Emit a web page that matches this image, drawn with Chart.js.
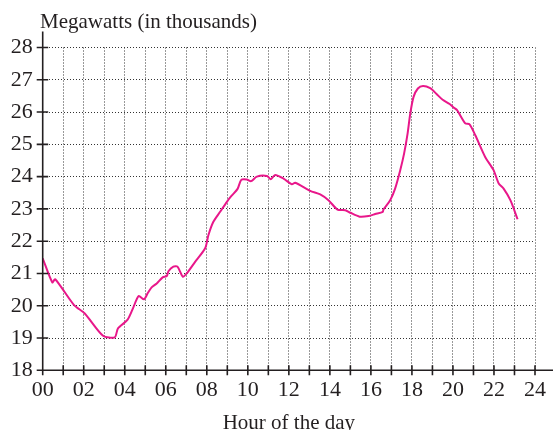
<!DOCTYPE html>
<html>
<head>
<meta charset="utf-8">
<script src="https://cdn.jsdelivr.net/npm/chart.js@4/dist/chart.umd.min.js"></script>
<style>
  html, body { margin: 0; padding: 0; background: #fff; }
  #wrap { width: 553px; height: 430px; position: relative; }
</style>
</head>
<body>
<div id="wrap"><canvas id="c"></canvas></div>
<script>
// Hourly electricity demand over one day
const hours = [
  0.00, 0.47, 0.61, 1.53, 2.05, 2.94, 3.51, 3.67, 4.13, 4.40,
  4.68, 4.94, 5.13, 5.31, 5.56, 5.85, 6.05, 6.13, 6.37, 6.57,
  6.83, 7.02, 7.43, 7.92, 8.08, 8.32, 8.65, 8.98, 9.20, 9.50,
  9.68, 9.95, 10.16, 10.44, 10.93, 11.12, 11.33, 11.74, 12.15, 12.31,
  13.04, 13.53, 13.93, 14.37, 14.75, 15.00, 15.45, 15.89, 16.21, 16.58,
  16.61, 16.94, 17.18, 17.43, 17.62, 17.79, 17.92, 18.08, 18.29, 18.54,
  18.89, 19.20, 19.50, 19.84, 20.03, 20.20, 20.60, 20.81, 21.09, 21.57,
  21.98, 22.23, 22.47, 22.80, 23.15
];
const megawatts = [
  21.47, 20.72, 20.82, 20.02, 19.76, 19.07, 19.02, 19.30, 19.56, 19.92,
  20.30, 20.20, 20.40, 20.57, 20.69, 20.88, 20.92, 21.07, 21.21, 21.21,
  20.90, 21.00, 21.36, 21.78, 22.19, 22.60, 22.91, 23.22, 23.40, 23.62,
  23.90, 23.91, 23.86, 24.00, 24.02, 23.92, 24.05, 23.94, 23.76, 23.81,
  23.56, 23.45, 23.27, 22.98, 22.96, 22.88, 22.76, 22.78, 22.84, 22.91,
  22.98, 23.27, 23.63, 24.20, 24.72, 25.34, 25.96, 26.47, 26.73, 26.81,
  26.74, 26.56, 26.38, 26.25, 26.14, 26.06, 25.65, 25.62, 25.28, 24.61,
  24.20, 23.79, 23.63, 23.27, 22.68
];
const hourTickLabels = ['00','02','04','06','08','10','12','14','16','18','20','22','24'];
const yAxisTitle = 'Megawatts (in thousands)';
const xAxisTitle = 'Hour of the day';

const INK = '#231f20';
const SERIF = '"Liberation Serif", "Times New Roman", serif';
Chart.defaults.font.family = SERIF;
Chart.defaults.color = INK;

// Axis lines that cross their tick marks, plus the caption above the value axis
const axisMarks = {
  id: 'axisMarks',
  afterDraw(chart) {
    const { ctx, chartArea: a, scales: { x, y } } = chart;
    const x0 = x.getPixelForValue(0);
    const y0 = y.getPixelForValue(18);
    ctx.save();
    ctx.strokeStyle = INK;
    ctx.lineWidth = 1.6;
    ctx.beginPath();
    ctx.moveTo(x0, a.top - 16);
    ctx.lineTo(x0, y0 + 5);
    ctx.moveTo(x0 - 5, y0);
    ctx.lineTo(chart.width, y0);
    y.ticks.forEach(t => {
      const py = y.getPixelForValue(t.value);
      ctx.moveTo(x0 - 6, py);
      ctx.lineTo(x0 + 5.5, py);
    });
    x.ticks.forEach(t => {
      const px = x.getPixelForValue(t.value);
      ctx.moveTo(px, y0 - 5);
      ctx.lineTo(px, y0 + 5);
    });
    ctx.stroke();
    ctx.fillStyle = INK;
    ctx.font = '21px ' + SERIF;
    ctx.textAlign = 'left';
    ctx.textBaseline = 'alphabetic';
    ctx.fillText(yAxisTitle, 40, 28);
    ctx.restore();
  }
};

new Chart(document.getElementById('c'), {
  type: 'scatter',
  data: {
    datasets: [{
      data: hours.map((h, i) => ({ x: h, y: megawatts[i] })),
      showLine: true,
      borderColor: '#e8178a',
      borderWidth: 2,
      pointRadius: 0,
      tension: 0.25,
      fill: false
    }]
  },
  options: {
    responsive: true,
    maintainAspectRatio: false,
    animation: false,
    devicePixelRatio: 1,
    layout: { padding: { top: 47.5, right: 17.5, left: 0, bottom: 0 } },
    plugins: { legend: { display: false }, tooltip: { enabled: false } },
    scales: {
      x: {
        type: 'linear',
        min: 0, max: 24,
        afterFit(s) { s.height = 59.7; },
        border: { display: false, dash: [1, 2] },
        grid: { color: '#333', lineWidth: 1, drawTicks: false },
        ticks: {
          stepSize: 1,
          autoSkip: false,
          maxRotation: 0,
          padding: 7,
          font: { size: 22 },
          color: INK,
          callback: v => (v % 2 === 0 ? hourTickLabels[v / 2] : '')
        },
        title: {
          display: true,
          text: xAxisTitle,
          font: { size: 21 },
          color: INK,
          padding: { top: 0, bottom: -6 }
        }
      },
      y: {
        min: 18, max: 28,
        afterFit(s) { s.width = 42.7; },
        border: { display: false, dash: [1, 2] },
        grid: { color: '#333', lineWidth: 1, drawTicks: false },
        ticks: { stepSize: 1, padding: 10, font: { size: 22 }, color: INK }
      }
    }
  },
  plugins: [axisMarks]
});
</script>
</body>
</html>
